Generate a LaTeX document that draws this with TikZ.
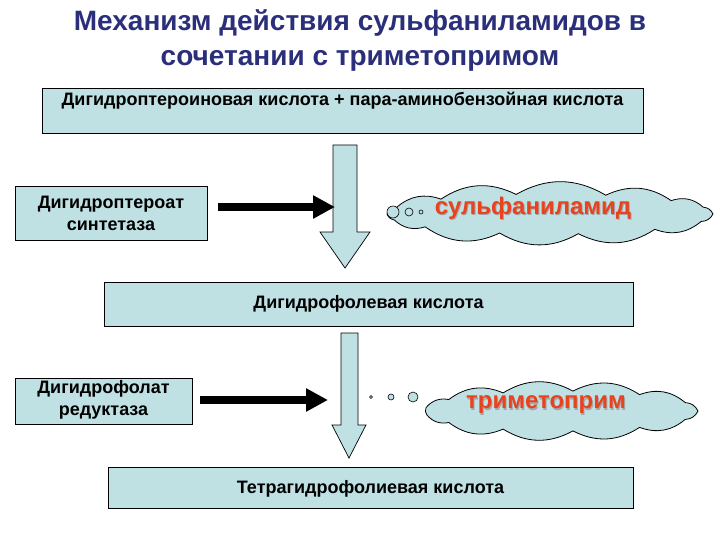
\documentclass[tikz,border=0pt]{standalone}
\usepackage{fontspec}
\setmainfont{Liberation Sans}
\usetikzlibrary{arrows.meta}
\definecolor{boxfill}{HTML}{BFE1E4}
\definecolor{titlecol}{HTML}{2B2F7A}
\definecolor{redtxt}{HTML}{E8421E}
\tikzset{
  box/.style={draw=black, line width=0.8pt, fill=boxfill, inner sep=0pt},
  boxtext/.style={font=\bfseries\fontsize{18}{22}\selectfont, align=center, inner sep=0pt},
  blockarrow/.style={draw=black, line width=0.7pt, fill=boxfill},
  blackarrow/.style={line width=8pt, -{Triangle[length=22pt,width=22pt]}},
  cloudline/.style={draw=black, line width=0.8pt, fill=boxfill},
  bubble/.style={circle, draw=black, line width=0.6pt, fill=boxfill, inner sep=0pt},
  redlabel/.style={font=\bfseries\fontsize{24}{28}\selectfont, text=redtxt, inner sep=0pt},
  shadowlabel/.style={font=\bfseries\fontsize{24}{28}\selectfont, text=black!35, inner sep=0pt},
}
\begin{document}
\begin{tikzpicture}[x=1pt,y=-1pt]
\useasboundingbox (0,0) rectangle (720,540);
% title
\node[font=\bfseries\fontsize{28}{35}\selectfont, text=titlecol, align=center] (title) at (360,40)
  {Механизм действия сульфаниламидов в\\сочетании с триметопримом};
% box 1
\node[box, minimum width=601pt, minimum height=45pt] (b1) at (342.5,110.5) {};
\node[boxtext] (t1) at (342.5,101) {Дигидроптероиновая кислота + пара-аминобензойная кислота};
% down arrow 1
\draw[blockarrow] (333,145) -- (357,145) -- (357,232) -- (370,232) -- (345,268) -- (320,232) -- (333,232) -- cycle;
% enzyme box 1
\node[box, minimum width=192pt, minimum height=54pt] (e1) at (111,213) {};
\node[boxtext] (te1) at (111,213) {Дигидроптероат\\синтетаза};
\coordinate (a1s) at (218,207);
\coordinate (a1e) at (335,207);
\draw[blackarrow] (a1s) -- (a1e);
% cloud 1
\draw[cloudline] ({550+163*cos(0)},{214+20*sin(0)})
  \foreach \a in {22,50,80,108,140,163,180,200,228,258,290,318,340,360}
    { to[bend left=30] ({550+163*cos(\a)},{214+20*sin(\a)}) } -- cycle;
\node[bubble, minimum size=12pt] (p1) at (393,212) {};
\node[bubble, minimum size=8pt] (p2) at (409,212) {};
\node[bubble, minimum size=4pt] (p3) at (421,212) {};
\node[shadowlabel] at (534,209.5) {сульфаниламид};
\node[redlabel] (s1) at (533,208) {сульфаниламид};
% box 3
\node[box, minimum width=529pt, minimum height=44pt] (b3) at (368.5,304) {};
\node[boxtext] (t3) at (368.5,304) {Дигидрофолевая кислота};
% down arrow 2
\draw[blockarrow] (341,333) -- (358,333) -- (358,425) -- (366,425) -- (349,458) -- (332,425) -- (341,425) -- cycle;
% enzyme box 2
\node[box, minimum width=177pt, minimum height=46pt] (e2) at (103.5,401) {};
\node[boxtext] (te2) at (103.5,400) {Дигидрофолат\\редуктаза};
\coordinate (a2s) at (200,400);
\coordinate (a2e) at (328,400);
\draw[blackarrow] (a2s) -- (a2e);
% cloud 2
\draw[cloudline] ({561+137*cos(0)},{411+20*sin(0)})
  \foreach \a in {25,55,85,115,145,168,190,215,245,275,305,335,360}
    { to[bend left=30] ({561+137*cos(\a)},{411+20*sin(\a)}) } -- cycle;
\node[bubble, minimum size=3pt] (q1) at (371,397) {};
\node[bubble, minimum size=6pt] (q2) at (391,397) {};
\node[bubble, minimum size=10pt] (q3) at (413,397) {};
\node[shadowlabel] at (547,406.5) {триметоприм};
\node[redlabel] (s2) at (546,405) {триметоприм};
% box 5
\node[box, minimum width=525pt, minimum height=41pt] (b5) at (370.5,487.5) {};
\node[boxtext] (t5) at (370.5,489) {Тетрагидрофолиевая кислота};
\end{tikzpicture}
\end{document}
